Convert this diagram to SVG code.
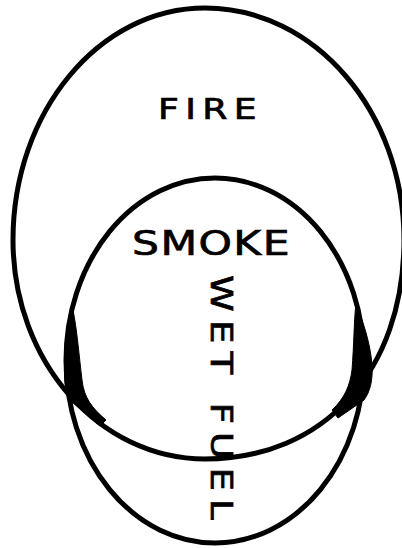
<svg xmlns="http://www.w3.org/2000/svg" width="402" height="548" viewBox="0 0 402 548">
<style>
.ring{fill:none;stroke:#000;stroke-width:5}
.ink{fill:#000;stroke:#000;stroke-width:1}
.lbl{font-family:"DejaVu Sans","Liberation Sans",sans-serif;fill:#000;stroke:#000;stroke-width:0.7;text-anchor:start}
</style>
<rect width="402" height="548" fill="#fff"/>
<g id="fire">
<path class="ring" d="M205,8 C315,8 404,112 404,240 C404,371 324,459 205,459 C99,459 13,361 13,240 C13,112 99,8 205,8 Z"/>
<text class="lbl" transform="translate(158,119) scale(1.25,1)" font-size="29" textLength="79" lengthAdjust="spacing">FIRE</text>
</g>
<g id="smoke">
<ellipse class="ring" cx="215" cy="360.5" rx="149" ry="182.5"/>
<text class="lbl" transform="translate(132,255) scale(1.25,1)" font-size="34" textLength="126" lengthAdjust="spacing">SMOKE</text>
</g>
<g id="wet-fuel">
<text class="lbl" transform="translate(211,275) rotate(90) scale(1.2,1)" font-size="31" textLength="204" lengthAdjust="spacing">WET FUEL</text>
</g>
<g id="connectors">
<path class="ink" d="M73,310 C66,335 62,365 66,392 L72,402 L100,426 L106,420 C92,408 84,398 82,380 C79,355 77,330 73,310 Z"/>
<path class="ink" d="M356,303 C362,320 370,340 372,365 C373,380 370,392 364,400 L338,418 L332,410 C345,398 350,385 352,370 C354,345 354,320 356,303 Z"/>
</g>
</svg>
